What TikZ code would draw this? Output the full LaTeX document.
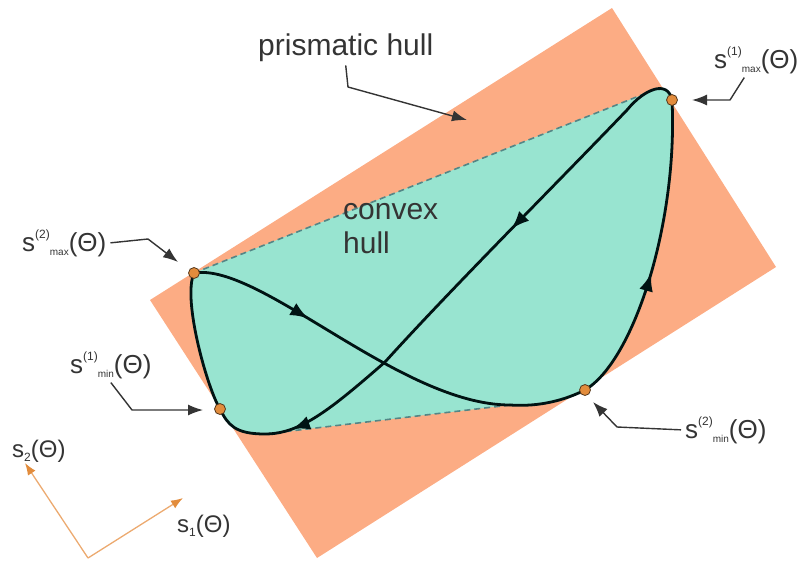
\documentclass[tikz,border=0pt]{standalone}
\usepackage{fontspec}
\setmainfont{Liberation Sans}
\usetikzlibrary{arrows.meta,decorations.markings}

\definecolor{prism}{RGB}{252,172,132}
\definecolor{cvx}{RGB}{152,228,208}
\definecolor{cvxedge}{RGB}{84,134,134}
\definecolor{dotfill}{RGB}{226,140,60}
\definecolor{axisline}{RGB}{236,170,112}
\definecolor{txt}{RGB}{52,52,52}

\newcommand{\upidx}[1]{\raisebox{13pt}{\fontsize{12}{12}\selectfont #1}}
\newcommand{\lowidx}[2][10]{\raisebox{-4pt}{\fontsize{#1}{#1}\selectfont #2}}
\newcommand{\sbound}[2]{s\upidx{(#1)}\lowidx{#2}(Θ)}
\newcommand{\saxis}[1]{s\lowidx[12]{#1}(Θ)}

% pieces of the trajectory
\newcommand{\segA}{.. controls (260,262) and (400,405) .. (lowR)}
\newcommand{\segB}{.. controls (540,407) and (565,400) .. (p2min) .. controls (635,360) and (678,220) .. (p1max)}
\newcommand{\segC}{.. controls (668,80) and (645,88) .. (topL) .. controls (560,180) and (450,290) .. (cross)}
\newcommand{\segD}{.. controls (330,410) and (300,434) .. (lowL) .. controls (235,434) and (228,425) .. (p1min) .. controls (208,390) and (182,300) .. (p2max)}

\begin{document}
\begin{tikzpicture}[x=1pt,y=-1pt,>={Latex[length=15pt,width=11pt]},
  font=\fontsize{30}{34}\selectfont,text=txt,
  lbl/.style={font=\fontsize{26}{28}\selectfont,inner sep=4pt},
  pointer/.style={draw=txt,line width=1.4pt,->,line join=round},
  trace/.style={draw=black!85!teal,line width=2.8pt,line cap=round,line join=round},
  flow/.style={postaction={decorate},decoration={markings,
    mark=at position #1 with {\arrow{Latex[length=18pt,width=14pt]}}}},
  bound/.style={circle,fill=dotfill,draw=black!55!brown,line width=0.8pt,inner sep=0pt,minimum size=11pt},
  axisarrow/.style={draw=axisline,line width=1.3pt,-{Latex[length=12pt,width=9pt,color=dotfill]}}]

\useasboundingbox (0,0) rectangle (810,565);

% prismatic hull
\fill[prism] (612,8) -- (776,267) -- (317,558) -- (150,300) -- cycle;

% points of the trajectory
\coordinate (p1max) at (672,100);
\coordinate (p2max) at (194,273);
\coordinate (p1min) at (220,409);
\coordinate (p2min) at (585,390);
\coordinate (cross) at (385,362);
\coordinate (lowR) at (510,405);
\coordinate (lowL) at (265,434);
\coordinate (topL) at (627,110);
\coordinate (tanT) at (654,90);

% convex hull
\fill[cvx] (p2max) -- (tanT) -- (lowR) -- (lowL) -- cycle;
\fill[cvx] (p2max) \segA \segB \segC \segD;
\draw[cvxedge,line width=1.6pt,dash pattern=on 6pt off 4pt] (p2max) -- (tanT);
\draw[cvxedge,line width=1.6pt,dash pattern=on 6pt off 4pt] (lowR) -- (lowL);

% trajectory
\draw[trace,flow=0.36] (p2max) \segA;
\draw[trace,flow=0.55] (lowR) \segB;
\draw[trace,flow=0.55] (p1max) \segC;
\draw[trace,flow=0.34] (cross) \segD;

\node[bound] (d1max) at (p1max) {};
\node[bound] (d2max) at (p2max) {};
\node[bound] (d1min) at (p1min) {};
\node[bound] (d2min) at (p2min) {};

% labels
\node[inner sep=4pt,anchor=base west] (lprism) at (254,55) {prismatic hull};
\node[align=left,anchor=base west,inner sep=0pt] (lcvx) at (343,253) {convex\\hull};
\node[lbl,anchor=base west] (l1max) at (710,68) {\sbound{1}{max}};
\node[lbl,anchor=base west] (l2max) at (18,251) {\sbound{2}{max}};
\node[lbl,anchor=base west] (l1min) at (66,373) {\sbound{1}{min}};
\node[lbl,anchor=base west] (l2min) at (681,438) {\sbound{2}{min}};

\coordinate (kprism) at (348,87);
\coordinate (tprism) at (467,120);
\coordinate (k1max) at (730,100);
\coordinate (t1max) at (692,100);
\coordinate (k2max) at (148,239);
\coordinate (t2max) at (178,262);
\coordinate (k1min) at (132,410);
\coordinate (t1min) at (203,410);
\coordinate (k2min) at (617,427);
\coordinate (t2min) at (593,402);

\draw[pointer] (lprism.south) -- (kprism) -- (tprism);
\draw[pointer] ([xshift=-12pt]l1max.south) -- (k1max) -- (t1max);
\draw[pointer] (l2max.east) -- (k2max) -- (t2max);
\draw[pointer] (l1min.south) -- (k1min) -- (t1min);
\draw[pointer] (l2min.west) -- (k2min) -- (t2min);

% coordinate axes
\coordinate (orig) at (88,558);
\coordinate (ax1) at (183,498);
\coordinate (ax2) at (25,463);
\draw[axisarrow] (orig) -- (ax1);
\draw[axisarrow] (orig) -- (ax2);
\node[anchor=base west,inner sep=0pt,font=\fontsize{24}{26}\selectfont] (lax1) at (177,532) {\saxis{1}};
\node[anchor=base west,inner sep=0pt,font=\fontsize{24}{26}\selectfont] (lax2) at (12,457) {\saxis{2}};
\end{tikzpicture}
\end{document}
